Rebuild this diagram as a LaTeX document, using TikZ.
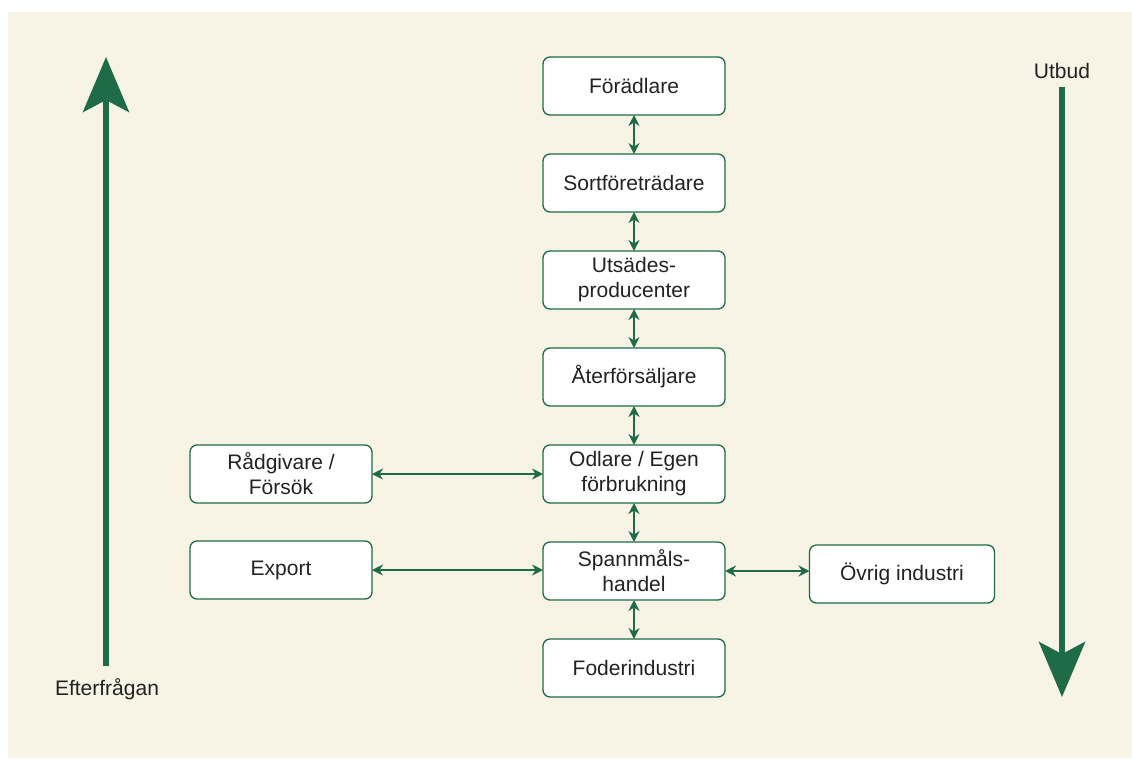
\documentclass[tikz,border=0pt]{standalone}
\usepackage{fontspec}
\setmainfont{Liberation Sans}
\usetikzlibrary{positioning, arrows.meta}
\definecolor{chaingreen}{HTML}{1F6B47}
\definecolor{paper}{HTML}{F7F4E6}
\definecolor{ink}{HTML}{222222}

\begin{document}
\begin{tikzpicture}
    [x = 1pt, y = -1pt, outer sep = 0pt, node distance = 39pt,
    actor/.style={rectangle, draw=chaingreen, fill = white, line
      width = 1.3pt, rounded corners = 7pt, minimum width = 182pt,
      minimum height = 58pt, inner sep = 0pt, align = center,
      text = ink, font = \fontsize{21}{25}\selectfont},
    link/.style={{Stealth[length=11pt, width=11pt]}-{Stealth[length=11pt,
        width=11pt]}, draw=chaingreen, line width = 1.8pt},
    flow/.style={-{Stealth[length=55pt, width=46pt, inset=12pt]},
      draw=chaingreen, line width = 6pt},
    caption/.style={text = ink, font = \fontsize{21}{25}\selectfont,
      inner sep = 0pt}]
    \useasboundingbox [fill = white] (0,0) rectangle (1132,758);
    \fill [paper] (8,12) rectangle (1132,758);

    % supply chain, top to bottom
    \node [actor] (foradlare) at (634,86) {Förädlare};
    \node [actor, below = of foradlare] (sort) {Sortföreträdare};
    \node [actor, below = of sort] (utsade) {Utsädes-\\producenter};
    \node [actor, below = of utsade] (ater) {Återförsäljare};
    \node [actor, below = of ater] (odlare) {Odlare / Egen\\förbrukning};
    \node [actor, below = of odlare] (handel) {Spannmåls-\\handel};
    \node [actor, below = of handel] (foder) {Foderindustri};

    % side actors
    \node [actor] (radgivare) at (281,474) {Rådgivare /\\Försök};
    \node [actor] (export) at (281,570) {Export};
    \node [actor, minimum width = 185pt] (ovrig) at (902,574) {Övrig industri};

    \foreach \a/\b in {foradlare/sort, sort/utsade, utsade/ater,
      ater/odlare, odlare/handel, handel/foder}
      \draw [link] (\a.south) -- (\b.north);
    \draw [link] (radgivare.east) -- (odlare.west);
    \draw [link] (export.east) -- (export.east -| handel.west);
    \draw [link] (ovrig.west |- handel.east) -- (handel.east);

    % demand and supply
    \node [caption] (efter) at (107,689) {Efterfrågan};
    \coordinate (efter_top) at (106,57);
    \draw [flow] ([yshift=12pt]efter.north -| efter_top) -- (efter_top);
    \node [caption] (utbud) at (1062,71) {Utbud};
    \coordinate (utbud_end) at (1062,697);
    \draw [flow] ([yshift=-8pt]utbud.south -| utbud_end) -- (utbud_end);
  \end{tikzpicture}
\end{document}
